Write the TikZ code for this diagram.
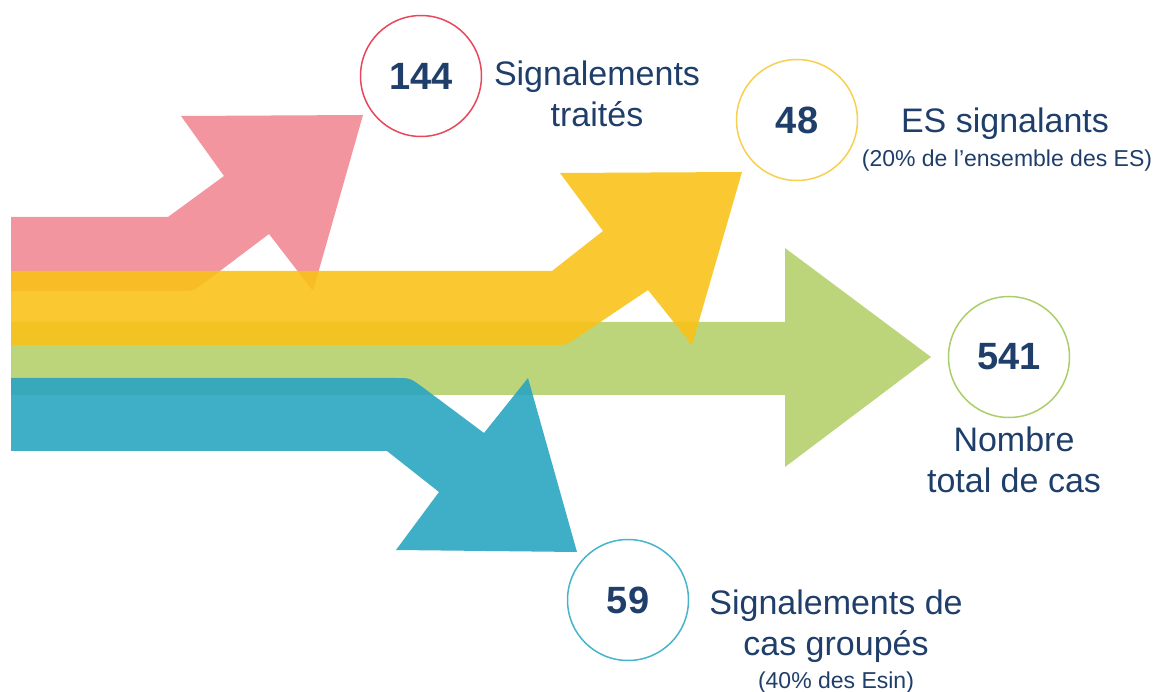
\documentclass[tikz,border=0pt]{standalone}
\usepackage{fontspec}
\setmainfont{Liberation Sans}
\usetikzlibrary{positioning}

\definecolor{navy}{RGB}{31,62,106}
\definecolor{pinkfill}{RGB}{241,137,148}
\definecolor{yellowfill}{RGB}{249,194,25}
\definecolor{greenfill}{RGB}{182,208,107}
\definecolor{bluefill}{RGB}{42,165,193}
\definecolor{pinkline}{RGB}{232,72,92}
\definecolor{yellowline}{RGB}{248,208,80}
\definecolor{greenline}{RGB}{170,207,106}
\definecolor{blueline}{RGB}{72,180,204}

\begin{document}
\begin{tikzpicture}[x=1pt, y=-1pt,
    band/.style={fill opacity=0.9},
    numcircle/.style={circle, draw, line width=1.5pt, minimum size=121pt, inner sep=0pt,
      text=navy, font=\fontsize{38}{38}\selectfont\bfseries},
    lbl/.style={anchor=base, align=center, text=navy, font=\fontsize{34}{41}\selectfont},
    note/.style={anchor=base, text=navy, font=\fontsize{23}{28}\selectfont}]
  \useasboundingbox (0,0) rectangle (1157,692);

  % pink arrow, going up
  \fill[band, pinkfill] (11,217) -- (168,217) -- (224,176) -- (181,116) -- (363,115)
    -- (313,291) -- (269,234) -- (204,283) .. controls (193,291) .. (179,291)
    -- (11,291) -- cycle;

  % green arrow, straight
  \fill[band, greenfill] (11,322) -- (785,322) -- (785,248) -- (931,357)
    -- (785,467) -- (785,395) -- (11,395) -- cycle;

  % yellow arrow, going up
  \fill[band, yellowfill] (11,271) -- (552,271) -- (603,231) -- (560,173) -- (742,172)
    -- (692,345) -- (648,290) -- (578,337) .. controls (566,345) .. (552,345)
    -- (11,345) -- cycle;

  % blue arrow, going down
  \fill[band, bluefill] (11,378) -- (396,378) .. controls (410,378) .. (421,386)
    -- (484,433) -- (528,378) -- (577,552) -- (396,550) -- (439,492)
    -- (387,451) -- (11,451) -- cycle;

  % figures
  \node[numcircle, draw=pinkline] (c144) at (421,76) {144};
  \node[numcircle, draw=yellowline] (c48) at (797,120) {48};
  \node[numcircle, draw=greenline] (c541) at (1009,357) {541};
  \node[numcircle, draw=blueline] (c59) at (628,600) {59};

  % texts (base = last line)
  \node[lbl] (sig) at (597,127) {Signalements\\traités};
  \node[lbl] (es) at (1005,133) {ES signalants};
  \node[note] (esnote) at (1007,167) {(20\% de l’ensemble des ES)};
  \node[lbl] (total) at (1014,493) {Nombre\\total de cas};
  \node[lbl] (grp) at (836,655) {Signalements de\\cas groupés};
  \node[note] (grpnote) at (836,688) {(40\% des Esin)};
\end{tikzpicture}
\end{document}
